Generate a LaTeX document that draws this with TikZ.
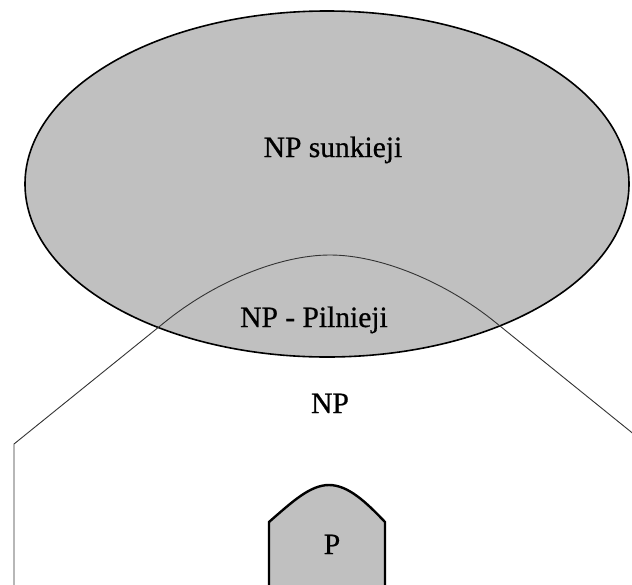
\documentclass[tikz,border=0pt]{standalone}
\usepackage{fontspec}
\setmainfont{Liberation Serif}
\newfontfamily\labelfont{Liberation Serif}[FakeBold=0.7]
\definecolor{regiongray}{RGB}{192,192,192}
\begin{document}
\begin{tikzpicture}[x=1pt,y=-1pt,
  setfill/.style={fill=regiongray, draw=black, line width=1.6pt},
  npline/.style={draw=black!80, line width=0.9pt},
  pbox/.style={fill=regiongray, draw=black, line width=2.4pt},
  setlabel/.style={font=\labelfont\fontsize{29.5}{31}\selectfont, anchor=base, inner sep=0pt}]
\useasboundingbox (0,0) rectangle (632,584);
\clip (0,0) rectangle (632,584);
\fill[white] (0,0) rectangle (632,584);
% the set NP sunkieji
\draw[setfill] (327,184) ellipse [x radius=302pt, y radius=173pt];
% outline of the class NP, running off the bottom and right edges
\draw[npline] (14,600) -- (14,444) -- (165,322)
  .. controls (215,281.5) and (280,255) .. (330,255)
  .. controls (380,255) and (445,281.5) .. (495,322)
  -- (646,444) -- (646,600);
% the class P
\filldraw[pbox] (269,600) -- (269,522)
  .. controls (292,502) and (310,485) .. (329,485)
  .. controls (348,485) and (366,502) .. (385,522) -- (385,600);
% labels
\node[setlabel] (hard) at (333,157) {NP sunkieji};
\node[setlabel] (complete) at (314,327) {NP - Pilnieji};
\node[setlabel] (np) at (330,413) {NP};
\node[setlabel] (p) at (332,554) {P};
\end{tikzpicture}
\end{document}
